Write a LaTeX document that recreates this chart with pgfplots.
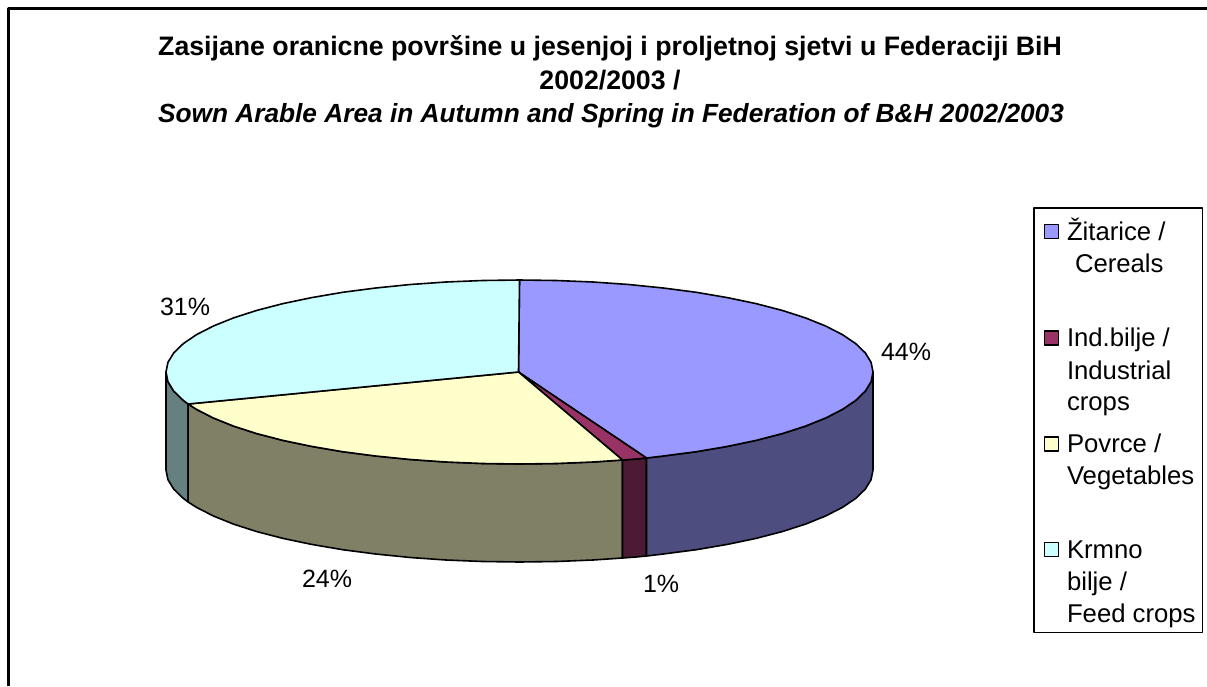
\documentclass[border=0pt]{standalone}
\usepackage{fontspec}
\setmainfont{Liberation Sans}
\usepackage{pgfplots}
\pgfplotsset{compat=1.18}
\definecolor{cer}{HTML}{9999FF}\definecolor{cerd}{HTML}{4D4D80}
\definecolor{ind}{HTML}{993366}\definecolor{indd}{HTML}{4D1A33}
\definecolor{pov}{HTML}{FFFFCC}\definecolor{povd}{HTML}{808066}
\definecolor{krm}{HTML}{CCFFFF}\definecolor{krmd}{HTML}{668080}
\newcommand{\ttl}{\fontsize{26.7}{30}\selectfont\bfseries}
\newcommand{\ttli}{\fontsize{26.25}{30}\selectfont\bfseries\itshape}
\newcommand{\lbl}{\fontsize{25}{29}\selectfont}
\newcommand{\lgd}{\fontsize{25.7}{29}\selectfont}
\tikzset{tx/.style={anchor=base west, inner sep=0pt, outer sep=0pt, text=black}}
\begin{document}
\begin{tikzpicture}
\begin{axis}[
  scale only axis, width=1207pt, height=686pt,
  xmin=0, xmax=1207, ymin=0, ymax=686, y dir=reverse,
  hide axis,
  every axis plot/.append style={line width=1.6pt, draw=black, line join=round},
]
% page extent
\addplot[draw=none] coordinates {(0,0)(1207,686)};
% frame
\addplot[line width=2.6pt] coordinates {(8.5,686)(8.5,8.5)(1207,8.5)};
% walls
\addplot[fill=krmd] coordinates {(188.1,404)(183.3,400.4)(173.7,391.1)(167.9,381.6)(166,372)(166,470)(167.9,479.6)(173.7,489.1)(183.3,498.4)(188.1,502)} --cycle;
\addplot[fill=povd] coordinates {(622.5,460)(593,462)(556.4,463.5)(519.5,464)(482.6,463.5)(446,462)(410.3,459.5)(375.7,456)(342.7,451.7)(311.7,446.4)(283,440.4)(256.8,433.6)(233.5,426.1)(213.4,418)(196.6,409.4)(188.1,404)(188.1,502)(196.6,507.4)(213.4,516)(233.5,524.1)(256.8,531.6)(283,538.4)(311.7,544.4)(342.7,549.7)(375.7,554)(410.3,557.5)(446,560)(482.6,561.5)(519.5,562)(556.4,561.5)(593,560)(622.5,558)} --cycle;
\addplot[fill=indd] coordinates {(646.5,458)(636,459)(622.5,460)(622.5,558)(636,557)(646.5,556)} --cycle;
\addplot[fill=cerd] coordinates {(873,372)(871.1,381.6)(865.3,391.1)(855.7,400.4)(842.4,409.4)(825.6,418)(805.5,426.1)(782.2,433.6)(756,440.4)(727.3,446.4)(696.3,451.7)(663.3,456)(646.5,458)(646.5,556)(663.3,554)(696.3,549.7)(727.3,544.4)(756,538.4)(782.2,531.6)(805.5,524.1)(825.6,516)(842.4,507.4)(855.7,498.4)(865.3,489.1)(871.1,479.6)(873,470)} --cycle;
% top faces
\addplot[fill=cer] coordinates {(518.5,372)(519.5,280)(556.4,280.5)(593,282)(628.7,284.5)(663.3,288)(696.3,292.3)(727.3,297.6)(756,303.6)(782.2,310.4)(805.5,317.9)(825.6,326)(842.4,334.6)(855.7,343.6)(865.3,352.9)(871.1,362.4)(873,372)(871.1,381.6)(865.3,391.1)(855.7,400.4)(842.4,409.4)(825.6,418)(805.5,426.1)(782.2,433.6)(756,440.4)(727.3,446.4)(696.3,451.7)(663.3,456)(646.5,458)} --cycle;
\addplot[fill=ind] coordinates {(518.5,372)(646.5,458)(636,459)(622.5,460)} --cycle;
\addplot[fill=pov] coordinates {(518.5,372)(622.5,460)(593,462)(556.4,463.5)(519.5,464)(482.6,463.5)(446,462)(410.3,459.5)(375.7,456)(342.7,451.7)(311.7,446.4)(283,440.4)(256.8,433.6)(233.5,426.1)(213.4,418)(196.6,409.4)(188.1,404)} --cycle;
\addplot[fill=krm] coordinates {(518.5,372)(188.1,404)(183.3,400.4)(173.7,391.1)(167.9,381.6)(166,372)(167.9,362.4)(173.7,352.9)(183.3,343.6)(196.6,334.6)(213.4,326)(233.5,317.9)(256.8,310.4)(283,303.6)(311.7,297.6)(342.7,292.3)(375.7,288)(410.3,284.5)(446,282)(482.6,280.5)(519.5,280)} --cycle;
% legend box
\addplot[line width=1.4pt] coordinates {(1034,208)(1202.5,208)(1202.5,632.7)(1034,632.7)} --cycle;
% legend keys
\addplot[only marks, mark=square*, mark size=7pt, mark options={fill=cer, draw=black, line width=1.2pt}] coordinates {(1051.5,231.5)};
\addplot[only marks, mark=square*, mark size=7pt, mark options={fill=ind, draw=black, line width=1.2pt}] coordinates {(1051.5,338)};
\addplot[only marks, mark=square*, mark size=7pt, mark options={fill=pov, draw=black, line width=1.2pt}] coordinates {(1051.5,444)};
\addplot[only marks, mark=square*, mark size=7pt, mark options={fill=krm, draw=black, line width=1.2pt}] coordinates {(1051.5,549.5)};
% title
\node[anchor=base, inner sep=0pt] at (axis cs:610,55) {\ttl Zasijane oranicne površine u jesenjoj i proljetnoj sjetvi u Federaciji BiH};
\node[anchor=base, inner sep=0pt] at (axis cs:610,89) {\ttl 2002/2003 /};
\node[anchor=base, inner sep=0pt] at (axis cs:611,122) {\ttli Sown Arable Area in Autumn and Spring in Federation of B\&H 2002/2003};
% data labels
\node[tx] at (axis cs:160,315) {\lbl 31\%};
\node[tx] at (axis cs:881,360.7) {\lbl 44\%};
\node[tx] at (axis cs:302,587) {\lbl 24\%};
\node[tx] at (axis cs:643,592) {\lbl 1\%};
% legend text
\node[tx] at (axis cs:1067,240.7) {\lgd Žitarice /};
\node[tx] at (axis cs:1075,272.7) {\lgd Cereals};
\node[tx] at (axis cs:1067,346.7) {\lgd Ind.bilje /};
\node[tx] at (axis cs:1067,379) {\lgd Industrial};
\node[tx] at (axis cs:1067,410.7) {\lgd crops};
\node[tx] at (axis cs:1067,452) {\lgd Povrce /};
\node[tx] at (axis cs:1067,484) {\lgd Vegetables};
\node[tx] at (axis cs:1067,558) {\lgd Krmno};
\node[tx] at (axis cs:1067,590) {\lgd bilje /};
\node[tx] at (axis cs:1067,622.7) {\lgd Feed crops};
\end{axis}
\end{tikzpicture}
\end{document}
